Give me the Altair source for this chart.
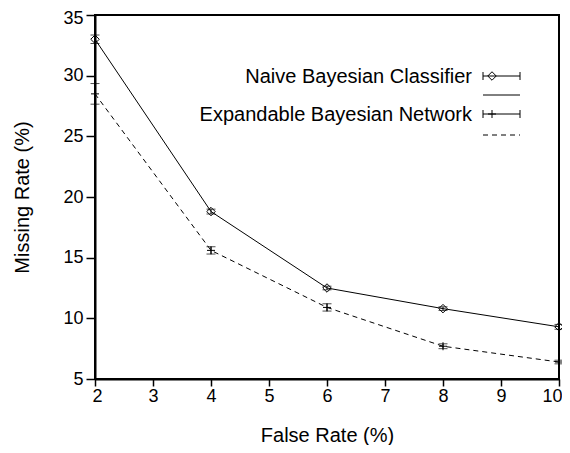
import altair as alt
import pandas as pd

false_rate = [2, 4, 6, 8, 10]
nbc_missing = [33.0, 18.8, 12.5, 10.8, 9.3]
nbc_err = [0.35, 0.2, 0.15, 0.15, 0.2]
ebn_missing = [28.5, 15.6, 10.9, 7.7, 6.4]
ebn_err = [0.85, 0.3, 0.3, 0.2, 0.15]
series_names = ["Naive Bayesian Classifier", "Expandable Bayesian Network"]

rows = []
for name, vals, errs in [(series_names[0], nbc_missing, nbc_err),
                         (series_names[1], ebn_missing, ebn_err)]:
    for x, v, e in zip(false_rate, vals, errs):
        rows.append({"series": name, "x": x, "y": v, "lo": v - e, "hi": v + e})
df = pd.DataFrame(rows)

FONT = "Liberation Sans"
W, H = 464, 364
TICK_FS = 18
TITLE_FS = 20
LEG_FS = 20

xs = alt.Scale(domain=[2, 10], nice=False, zero=False)
ys = alt.Scale(domain=[5, 35], nice=False, zero=False)

xenc = alt.X("x:Q", scale=xs, axis=alt.Axis(
    title="False Rate (%)", values=list(range(2, 11)), tickCount=9,
    labelFont=FONT, labelFontSize=TICK_FS, labelColor="black", labelPadding=1,
    labelFlush=True, labelFlushOffset=3,
    titleFont=FONT, titleFontSize=TITLE_FS, titleFontWeight="normal", titleColor="black",
    titleX=W / 2, titleY=62, titleBaseline="alphabetic", titleAlign="center",
    domainColor="black", domainWidth=2, tickColor="black", tickWidth=1.5, tickSize=7,
    grid=False))
yenc = alt.Y("y:Q", scale=ys, axis=alt.Axis(
    title="Missing Rate (%)", values=list(range(5, 40, 5)),
    labelFont=FONT, labelFontSize=TICK_FS, labelColor="black", labelPadding=3, labelFlush=False,
    labelOffset={"condition": {"test": "datum.value == 35", "value": 3}, "value": 0},
    titleFont=FONT, titleFontSize=TITLE_FS, titleFontWeight="normal", titleColor="black",
    titleX=-67, titleY=H / 2, titleAngle=-90, titleBaseline="alphabetic", titleAlign="center",
    domainColor="black", domainWidth=2, tickColor="black", tickWidth=1.5, tickSize=9,
    grid=False))

base = alt.Chart(df)

nbc = base.transform_filter(alt.datum.series == series_names[0])
ebn = base.transform_filter(alt.datum.series == series_names[1])

line_nbc = nbc.mark_line(color="black", strokeWidth=1).encode(x=xenc, y=yenc)
line_ebn = ebn.mark_line(color="black", strokeWidth=1, strokeDash=[5, 4]).encode(x=xenc, y=yenc)

bars = base.mark_rule(color="black", strokeWidth=1).encode(x="x:Q", y="lo:Q", y2="hi:Q")
cap_lo = base.mark_tick(color="black", thickness=1, size=9, orient="horizontal").encode(x="x:Q", y="lo:Q")
cap_hi = base.mark_tick(color="black", thickness=1, size=9, orient="horizontal").encode(x="x:Q", y="hi:Q")

PLUS = "M-1,0L1,0M0,-1L0,1"
pt_nbc = nbc.mark_point(shape="diamond", size=72, filled=False, color="black", strokeWidth=1, opacity=1).encode(x="x:Q", y="y:Q")
pt_ebn = ebn.mark_point(shape=PLUS, size=64, filled=False, color="black", strokeWidth=1, opacity=1).encode(x="x:Q", y="y:Q")

# legend (drawn by hand in pixel space)
leg = pd.DataFrame({"label": series_names, "row": [0, 1]})
lb = alt.Chart(leg)
one = lb.transform_filter(alt.datum.row == 0)
leg_text0 = one.mark_text(
    font=FONT, fontSize=LEG_FS, align="right", baseline="alphabetic", color="black").encode(
    text="label:N", x=alt.value(377), y=alt.value(68))
leg_text1 = lb.transform_filter(alt.datum.row == 1).mark_text(
    font=FONT, fontSize=LEG_FS, align="right", baseline="alphabetic", color="black").encode(
    text="label:N", x=alt.value(377), y=alt.value(106))

def err_sample(yp):
    r = one.mark_rule(color="black", strokeWidth=1).encode(
        x=alt.value(388), x2=alt.value(425), y=alt.value(yp))
    c1 = one.mark_rule(color="black", strokeWidth=1).encode(
        x=alt.value(388), y=alt.value(yp - 4), y2=alt.value(yp + 4))
    c2 = one.mark_rule(color="black", strokeWidth=1).encode(
        x=alt.value(425), y=alt.value(yp - 4), y2=alt.value(yp + 4))
    return r + c1 + c2

es0 = err_sample(61)
es1 = err_sample(99)
sym0 = one.mark_point(
    shape="diamond", size=72, filled=False, color="black", strokeWidth=1, opacity=1).encode(
    x=alt.value(397), y=alt.value(61))
sym1 = one.mark_point(
    shape=PLUS, size=64, filled=False, color="black", strokeWidth=1, opacity=1).encode(
    x=alt.value(397), y=alt.value(99))
ls0 = one.mark_rule(color="black", strokeWidth=1).encode(
    x=alt.value(388), x2=alt.value(425), y=alt.value(80))
ls1 = one.mark_rule(color="black", strokeWidth=1, strokeDash=[5, 4]).encode(
    x=alt.value(388), x2=alt.value(425), y=alt.value(120))

chart = alt.layer(
    line_nbc, line_ebn, bars, cap_lo, cap_hi, pt_nbc, pt_ebn,
    leg_text0, leg_text1, es0, es1, sym0, sym1, ls0, ls1
).properties(
    width=W, height=H,
    autosize=alt.AutoSizeParams(type="none"),
    padding={"left": 87, "top": 7, "right": 3, "bottom": 66},
    background="white",
).configure_view(stroke="black", strokeWidth=2)

chart.save("out.html", embed_options={"renderer": "svg", "actions": False})
